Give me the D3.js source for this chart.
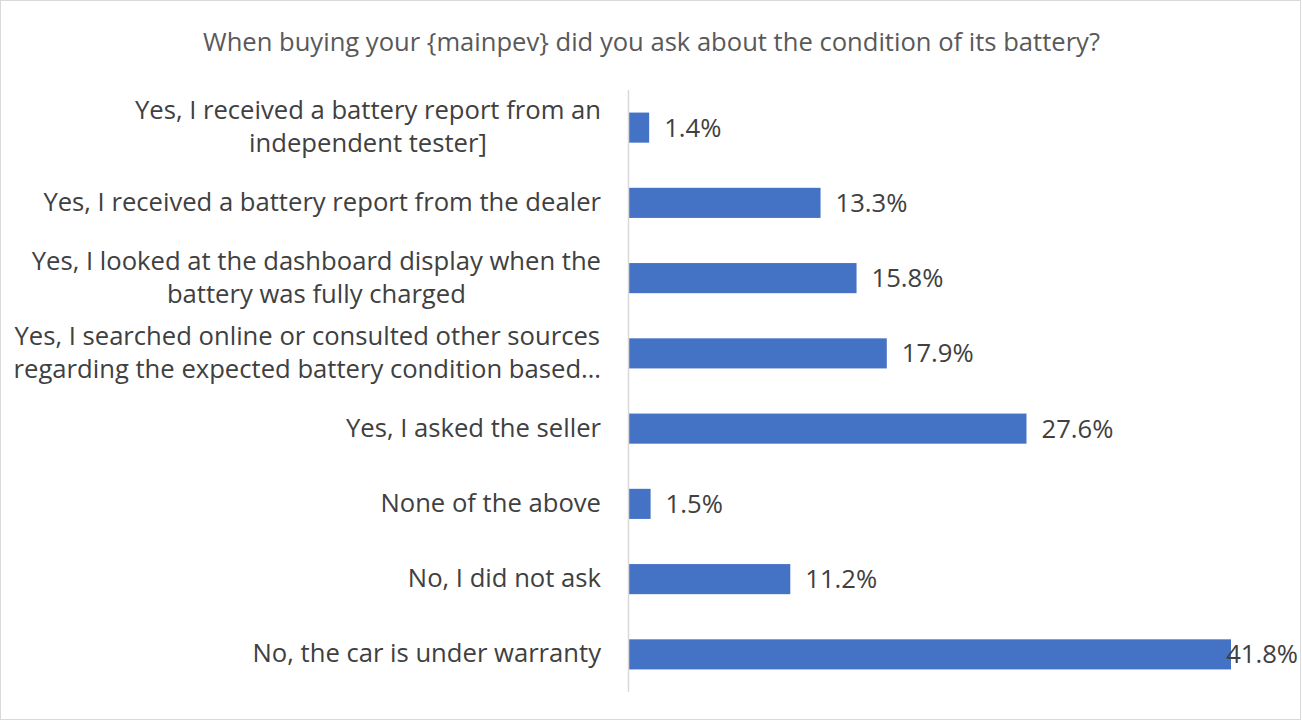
<!DOCTYPE html>
<html>
<head>
<meta charset="utf-8">
<script src="https://cdn.jsdelivr.net/npm/d3@7"></script>
<style>
  html, body { margin: 0; padding: 0; background: #fff; }
  svg { display: block; font-family: "Open Sans", Lato, sans-serif; }
</style>
</head>
<body>
<svg id="c" width="1302" height="721"></svg>
<script>
// chart data
const title = 'When buying your {mainpev} did you ask about the condition of its battery?';

const categories = [
  ['Yes, I received a battery report from an', 'independent tester]'],
  ['Yes, I received a battery report from the dealer'],
  ['Yes, I looked at the dashboard display when the', 'battery was fully charged'],
  ['Yes, I searched online or consulted other sources', 'regarding the expected battery condition based\u2026'],
  ['Yes, I asked the seller'],
  ['None of the above'],
  ['No, I did not ask'],
  ['No, the car is under warranty']
];
const values = [1.4, 13.3, 15.8, 17.9, 27.6, 1.5, 11.2, 41.8];

const W = 1302, H = 721;
const svg = d3.select('#c');

// size a font so that a sample string spans a given width
function fitSize(sample, target) {
  const t = svg.append('text').style('font-size', '20px').text(sample);
  const w = t.node().getComputedTextLength();
  t.remove();
  return 20 * target / w;
}
const titleSize = fitSize(title, 897);
const labelSize = fitSize(categories[1][0], 558);

// outer border
svg.append('rect')
  .attr('x', 0.5).attr('y', 0.5)
  .attr('width', W - 2).attr('height', H - 2)
  .attr('fill', '#fff').attr('stroke', '#d9d9d9');

svg.append('text')
  .attr('x', 651.5).attr('y', 51)
  .attr('text-anchor', 'middle')
  .attr('fill', '#595959')
  .style('font-size', titleSize + 'px')
  .text(title);

const x = d3.scaleLinear().domain([0, 41.8]).range([629, 1231]);
const y = d3.scaleBand()
  .domain(d3.range(categories.length))
  .range([90, 692])
  .paddingInner(0.6).paddingOuter(0.3);

// bars
svg.append('g').selectAll('rect')
  .data(values)
  .join('rect')
  .attr('x', x(0))
  .attr('y', (d, i) => y(i))
  .attr('width', d => x(d) - x(0))
  .attr('height', y.bandwidth())
  .attr('fill', '#4472c4');

// category axis line
svg.append('line')
  .attr('x1', 628.5).attr('x2', 628.5)
  .attr('y1', 90).attr('y2', 692)
  .attr('stroke', '#d9d9d9').attr('stroke-width', 1.5);

// category labels: lines centred on each other, block right-aligned
const labelRight = 601, lineH = 33;
const lbl = svg.append('g')
  .attr('fill', '#404040')
  .style('font-size', labelSize + 'px');

categories.forEach((lines, i) => {
  const cy = y(i) + y.bandwidth() / 2;
  const g = lbl.append('g');
  const ts = lines.map((s, k) => g.append('text')
    .attr('y', cy + (k - (lines.length - 1) / 2) * lineH + 8)
    .text(s));
  const wmax = d3.max(ts, t => t.node().getComputedTextLength());
  ts.forEach(t => t.attr('text-anchor', 'middle').attr('x', labelRight - wmax / 2));
});

// value labels
const vl = svg.append('g')
  .attr('fill', '#404040')
  .style('font-size', labelSize + 'px');

values.forEach((v, i) => {
  const t = vl.append('text')
    .attr('y', y(i) + y.bandwidth() / 2 + 9)
    .text(v.toFixed(1) + '%');
  const tw = t.node().getComputedTextLength();
  t.attr('x', Math.min(x(v) + 15, W - 4 - tw));
});
</script>
</body>
</html>
